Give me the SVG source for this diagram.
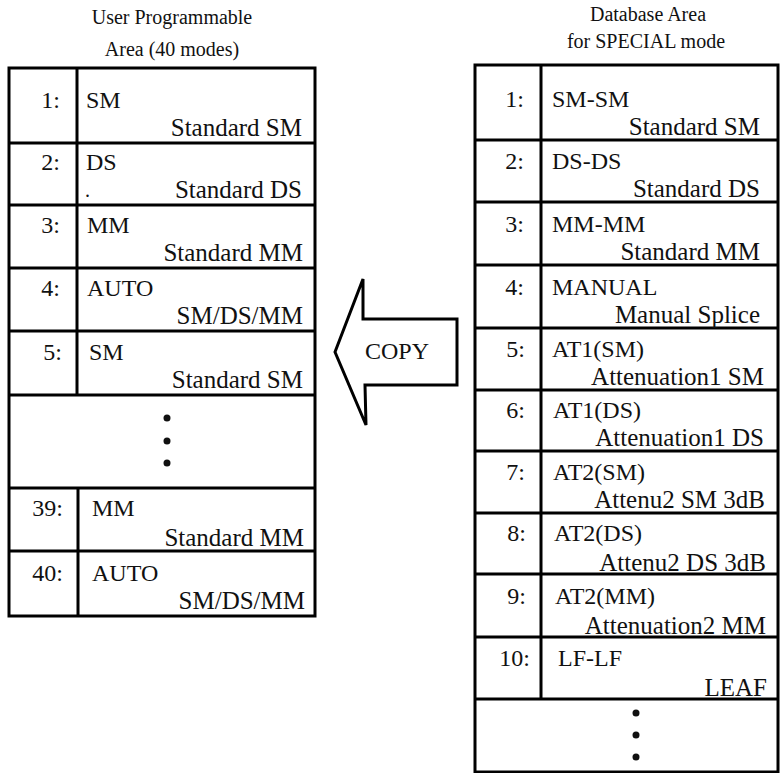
<svg xmlns="http://www.w3.org/2000/svg" width="782" height="773" viewBox="0 0 782 773">
<style>
text{font-family:"Liberation Serif","Times New Roman",serif;fill:#111}
.t{font-size:20px;text-anchor:middle}
.n{font-size:24px;text-anchor:end}
.l{font-size:24px}
.s{font-size:25px;text-anchor:end}
.box{fill:#fff;stroke:#000;stroke-width:3}
.ln{stroke:#000;stroke-width:3;fill:none}
.dot{fill:#111}
</style>
<rect width="782" height="773" fill="#fff"/>

<g id="left-title">
<text class="t" x="172" y="24">User Programmable</text>
<text class="t" x="172" y="56">Area (40 modes)</text>
</g>
<g id="right-title">
<text class="t" x="648" y="21">Database Area</text>
<text class="t" x="646" y="48">for SPECIAL mode</text>
</g>

<g id="left-table">
<rect class="box" x="9" y="68" width="306" height="548"/>
<path class="ln" d="M9 143H315M9 205H315M9 268H315M9 331H315M9 395H315M9 488H315M9 551H315M77 68V395M78 488V616"/>
<g id="L1"><text class="n" x="60" y="108">1:</text><text class="l" x="86" y="108">SM</text><text class="s" x="302" y="136">Standard SM</text></g>
<g id="L2"><text class="n" x="60" y="170">2:</text><text class="l" x="86" y="170">DS</text><text class="l" x="85" y="197" style="font-size:20px">.</text><text class="s" x="302" y="198">Standard DS</text></g>
<g id="L3"><text class="n" x="60" y="233">3:</text><text class="l" x="87" y="233">MM</text><text class="s" x="303" y="261">Standard MM</text></g>
<g id="L4"><text class="n" x="60" y="296">4:</text><text class="l" x="87" y="296">AUTO</text><text class="s" x="303" y="324">SM/DS/MM</text></g>
<g id="L5"><text class="n" x="62" y="360">5:</text><text class="l" x="89" y="360">SM</text><text class="s" x="303" y="388">Standard SM</text></g>
<g id="L-dots"><circle class="dot" cx="167" cy="418" r="3.5"/><circle class="dot" cx="167" cy="441" r="3.5"/><circle class="dot" cx="167" cy="463" r="3.5"/></g>
<g id="L39"><text class="n" x="63" y="516">39:</text><text class="l" x="92" y="516">MM</text><text class="s" x="304" y="546">Standard MM</text></g>
<g id="L40"><text class="n" x="63" y="581">40:</text><text class="l" x="92" y="581">AUTO</text><text class="s" x="305" y="609">SM/DS/MM</text></g>
</g>

<g id="right-table">
<rect class="box" x="475" y="65" width="303" height="707"/>
<path class="ln" d="M475 140H778M475 202H778M475 265H778M475 328H778M475 390H778M475 451H778M475 513H778M475 574H778M475 637H778M475 699H778M541 65V699"/>
<g id="R1"><text class="n" x="524" y="107">1:</text><text class="l" x="552" y="107">SM-SM</text><text class="s" x="760" y="135">Standard SM</text></g>
<g id="R2"><text class="n" x="524" y="169">2:</text><text class="l" x="552" y="169">DS-DS</text><text class="s" x="760" y="197">Standard DS</text></g>
<g id="R3"><text class="n" x="524" y="232">3:</text><text class="l" x="552" y="232">MM-MM</text><text class="s" x="760" y="260">Standard MM</text></g>
<g id="R4"><text class="n" x="524" y="295">4:</text><text class="l" x="552" y="295">MANUAL</text><text class="s" x="760" y="323">Manual Splice</text></g>
<g id="R5"><text class="n" x="525" y="357">5:</text><text class="l" x="552" y="357">AT1(SM)</text><text class="s" x="764" y="385">Attenuation1 SM</text></g>
<g id="R6"><text class="n" x="525" y="418">6:</text><text class="l" x="553" y="418">AT1(DS)</text><text class="s" x="764" y="446">Attenuation1 DS</text></g>
<g id="R7"><text class="n" x="525" y="480">7:</text><text class="l" x="553" y="480">AT2(SM)</text><text class="s" x="765" y="508">Attenu2 SM 3dB</text></g>
<g id="R8"><text class="n" x="526" y="541">8:</text><text class="l" x="554" y="541">AT2(DS)</text><text class="s" x="766" y="571">Attenu2 DS 3dB</text></g>
<g id="R9"><text class="n" x="526" y="604">9:</text><text class="l" x="555" y="604">AT2(MM)</text><text class="s" x="766" y="634">Attenuation2 MM</text></g>
<g id="R10"><text class="n" x="530" y="666">10:</text><text class="l" x="558" y="666">LF-LF</text><text class="s" x="767" y="696">LEAF</text></g>
<g id="R-dots"><circle class="dot" cx="636" cy="713" r="3.5"/><circle class="dot" cx="636" cy="735" r="3.5"/><circle class="dot" cx="636" cy="757" r="3.5"/></g>
</g>

<g id="connectors">
<polygon class="ln" points="335,352 363,279 363,319 457,319 457,385 365,385 366,425" stroke-linejoin="miter"/>
<text x="397" y="359" style="font-size:24px;text-anchor:middle">COPY</text>
</g>
</svg>
